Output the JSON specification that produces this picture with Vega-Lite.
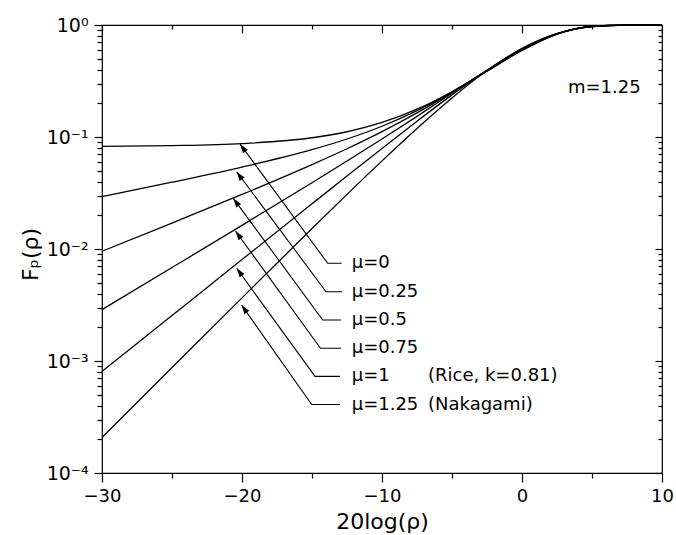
{
  "$schema": "https://vega.github.io/schema/vega-lite/v6.json",
  "width": 560,
  "height": 448,
  "autosize": {"type": "none"},
  "padding": {"left": 102, "top": 25, "right": 14, "bottom": 62},
  "background": "white",
  "config": {
    "view": {"stroke": "black", "strokeWidth": 1.2},
    "axis": {
      "domain": false, "grid": false, "tickColor": "black", "tickWidth": 1.2,
      "labelColor": "black", "titleColor": "black", "labelFont": "DejaVu Sans", "titleFont": "DejaVu Sans",
      "titleFontWeight": "normal", "labelFlush": false, "labelOverlap": false, "labelBound": false
    }
  },
  "datasets": {
    "curves": [
      {"mu": "0", "x": -30, "F": 0.0826}, {"mu": "0", "x": -25, "F": 0.08371}, {"mu": "0", "x": -20, "F": 0.08723},
      {"mu": "0", "x": -15, "F": 0.09846}, {"mu": "0", "x": -12.5, "F": 0.1114}, {"mu": "0", "x": -10, "F": 0.13476},
      {"mu": "0", "x": -7.5, "F": 0.1771}, {"mu": "0", "x": -5, "F": 0.2535}, {"mu": "0", "x": -2.5, "F": 0.38643},
      {"mu": "0", "x": 0, "F": 0.59177}, {"mu": "0", "x": 2.5, "F": 0.82747}, {"mu": "0", "x": 5, "F": 0.97188},
      {"mu": "0", "x": 7.5, "F": 0.9998}, {"mu": "0", "x": 10, "F": 1.0},
      {"mu": "0.25", "x": -30, "F": 0.029373}, {"mu": "0.25", "x": -25, "F": 0.039471}, {"mu": "0.25", "x": -20, "F": 0.053891},
      {"mu": "0.25", "x": -15, "F": 0.077143}, {"mu": "0.25", "x": -12.5, "F": 0.095969}, {"mu": "0.25", "x": -10, "F": 0.124782},
      {"mu": "0.25", "x": -7.5, "F": 0.172017}, {"mu": "0.25", "x": -5, "F": 0.252727}, {"mu": "0.25", "x": -2.5, "F": 0.389045},
      {"mu": "0.25", "x": 0, "F": 0.595384}, {"mu": "0.25", "x": 2.5, "F": 0.8295}, {"mu": "0.25", "x": 5, "F": 0.9713},
      {"mu": "0.25", "x": 7.5, "F": 0.9994}, {"mu": "0.25", "x": 10, "F": 1.0},
      {"mu": "0.5", "x": -30, "F": 0.00955}, {"mu": "0.5", "x": -25, "F": 0.017049}, {"mu": "0.5", "x": -20, "F": 0.030687},
      {"mu": "0.5", "x": -15, "F": 0.056712}, {"mu": "0.5", "x": -12.5, "F": 0.078516}, {"mu": "0.5", "x": -10, "F": 0.111604},
      {"mu": "0.5", "x": -7.5, "F": 0.16408}, {"mu": "0.5", "x": -5, "F": 0.250462}, {"mu": "0.5", "x": -2.5, "F": 0.391636},
      {"mu": "0.5", "x": 0, "F": 0.599638}, {"mu": "0.5", "x": 2.5, "F": 0.8315}, {"mu": "0.5", "x": 5, "F": 0.9705},
      {"mu": "0.5", "x": 7.5, "F": 0.9991}, {"mu": "0.5", "x": 10, "F": 1.0},
      {"mu": "0.75", "x": -30, "F": 0.0028782}, {"mu": "0.75", "x": -25, "F": 0.0068323}, {"mu": "0.75", "x": -20, "F": 0.0162571},
      {"mu": "0.75", "x": -15, "F": 0.0390653}, {"mu": "0.75", "x": -12.5, "F": 0.0609946}, {"mu": "0.75", "x": -10, "F": 0.0960253},
      {"mu": "0.75", "x": -7.5, "F": 0.152903}, {"mu": "0.75", "x": -5, "F": 0.245851}, {"mu": "0.75", "x": -2.5, "F": 0.393831},
      {"mu": "0.75", "x": 0, "F": 0.60477}, {"mu": "0.75", "x": 2.5, "F": 0.8335}, {"mu": "0.75", "x": 5, "F": 0.9698},
      {"mu": "0.75", "x": 7.5, "F": 0.9988}, {"mu": "0.75", "x": 10, "F": 1.0},
      {"mu": "1", "x": -30, "F": 0.0008054}, {"mu": "1", "x": -25, "F": 0.002546}, {"mu": "1", "x": -20, "F": 0.0080415},
      {"mu": "1", "x": -15, "F": 0.0253314}, {"mu": "1", "x": -12.5, "F": 0.0448375}, {"mu": "1", "x": -10, "F": 0.079047},
      {"mu": "1", "x": -7.5, "F": 0.138235}, {"mu": "1", "x": -5, "F": 0.237685}, {"mu": "1", "x": -2.5, "F": 0.394773},
      {"mu": "1", "x": 0, "F": 0.61107}, {"mu": "1", "x": 2.5, "F": 0.83537}, {"mu": "1", "x": 5, "F": 0.96924},
      {"mu": "1", "x": 7.5, "F": 0.9986}, {"mu": "1", "x": 10, "F": 1.0},
      {"mu": "1.25", "x": -30, "F": 0.0002075}, {"mu": "1.25", "x": -25, "F": 0.0008739}, {"mu": "1.25", "x": -20, "F": 0.003664},
      {"mu": "1.25", "x": -15, "F": 0.015223}, {"mu": "1.25", "x": -12.5, "F": 0.03073}, {"mu": "1.25", "x": -10, "F": 0.06124},
      {"mu": "1.25", "x": -7.5, "F": 0.1193}, {"mu": "1.25", "x": -5, "F": 0.2235}, {"mu": "1.25", "x": -2.5, "F": 0.3919},
      {"mu": "1.25", "x": 0, "F": 0.6186}, {"mu": "1.25", "x": 2.5, "F": 0.8414}, {"mu": "1.25", "x": 5, "F": 0.9685},
      {"mu": "1.25", "x": 7.5, "F": 0.99836}, {"mu": "1.25", "x": 10, "F": 0.99999}
    ],
    "leaders": [
      {"mu": "0", "x": -20.143, "F": 0.086596}, {"mu": "0", "x": -13.879, "F": 0.0074526}, {"mu": "0", "x": -12.879, "F": 0.0074526},
      {"mu": "0.25", "x": -20.379, "F": 0.048989}, {"mu": "0.25", "x": -14.0, "F": 0.0041563}, {"mu": "0.25", "x": -12.857, "F": 0.0041563},
      {"mu": "0.5", "x": -20.621, "F": 0.028358}, {"mu": "0.5", "x": -14.236, "F": 0.0023232}, {"mu": "0.5", "x": -12.929, "F": 0.0023232},
      {"mu": "0.75", "x": -20.464, "F": 0.014475}, {"mu": "0.75", "x": -14.393, "F": 0.0012985}, {"mu": "0.75", "x": -12.929, "F": 0.0012985},
      {"mu": "1", "x": -20.379, "F": 0.0067252}, {"mu": "1", "x": -14.786, "F": 0.00072862}, {"mu": "1", "x": -13.0, "F": 0.00072862},
      {"mu": "1.25", "x": -20.036, "F": 0.0031623}, {"mu": "1.25", "x": -15.021, "F": 0.00040886}, {"mu": "1.25", "x": -13.0, "F": 0.00040886}
    ],
    "arrows": [
      {"mu": "0", "x": -20.143, "F": 0.086596},
      {"mu": "0.25", "x": -20.379, "F": 0.048989},
      {"mu": "0.5", "x": -20.621, "F": 0.028358},
      {"mu": "0.75", "x": -20.464, "F": 0.014475},
      {"mu": "1", "x": -20.379, "F": 0.0067252},
      {"mu": "1.25", "x": -20.036, "F": 0.0031623}
    ],
    "labels": [
      {"label": "μ=0", "x": -12.164, "F": 0.0074526},
      {"label": "μ=0.25", "x": -12.164, "F": 0.0041563},
      {"label": "μ=0.5", "x": -12.164, "F": 0.0023232},
      {"label": "μ=0.75", "x": -12.164, "F": 0.0012985},
      {"label": "μ=1", "x": -12.164, "F": 0.00072862},
      {"label": "μ=1.25", "x": -12.164, "F": 0.00040886},
      {"label": "(Rice, k=0.81)", "x": -6.714, "F": 0.00072862},
      {"label": "(Nakagami)", "x": -6.714, "F": 0.00040886},
      {"label": "m=1.25", "x": 3.286, "F": 0.27384}
    ]
  },
  "layer": [
    {
      "data": {"name": "curves"},
      "mark": {"type": "line", "color": "black", "strokeWidth": 1.3, "interpolate": "monotone"},
      "encoding": {
        "x": {"field": "x", "type": "quantitative", "scale": {"domain": [-30, 10], "nice": false, "zero": false},
          "axis": {"orient": "bottom", "values": [-30, -20, -10, 0, 10], "tickSize": 9, "labelFontSize": 18, "labelPadding": 5,
            "title": "20log(ρ)", "titleFontSize": 22, "titleX": 280, "titleY": 55, "titleBaseline": "alphabetic"}},
        "y": {"field": "F", "type": "quantitative", "scale": {"type": "log", "domain": [0.0001, 1], "nice": false},
          "axis": {"orient": "left", "values": [0.0001, 0.001, 0.01, 0.1, 1], "tickSize": 8, "labelFontSize": 19, "labelPadding": 6,
            "labelExpr": "datum.value >= 0.5 ? '10⁰' : datum.value >= 0.05 ? '10⁻¹' : datum.value >= 0.005 ? '10⁻²' : datum.value >= 0.0005 ? '10⁻³' : '10⁻⁴'",
            "title": "Fₚ(ρ)", "titleFontSize": 22, "titleX": -72, "titleY": 229, "titleBaseline": "middle", "titleAngle": 270}},
        "detail": {"field": "mu"}
      }
    },
    {
      "data": {"name": "leaders"},
      "mark": {"type": "line", "color": "black", "strokeWidth": 1.1, "interpolate": "linear"},
      "encoding": {
        "x": {"field": "x", "type": "quantitative", "scale": {"domain": [-30, 10], "nice": false, "zero": false},
          "axis": {"orient": "bottom", "values": [-25, -15, -5, 5], "tickSize": 5, "labels": false, "title": null}},
        "y": {"field": "F", "type": "quantitative", "scale": {"type": "log", "domain": [0.0001, 1], "nice": false},
          "axis": {"orient": "left", "values": [0.0002, 0.0003, 0.0004, 0.0005, 0.0006, 0.0007, 0.0008, 0.0009, 0.002, 0.003, 0.004, 0.005, 0.006, 0.007, 0.008, 0.009, 0.02, 0.03, 0.04, 0.05, 0.06, 0.07, 0.08, 0.09, 0.2, 0.3, 0.4, 0.5, 0.6, 0.7, 0.8, 0.9], "tickSize": 5, "labels": false, "title": null}},
        "detail": {"field": "mu"}
      }
    },
    {
      "data": {"name": "arrows"},
      "mark": {"type": "point", "shape": "M0,0L0.75,2.3L-0.75,2.3Z", "filled": true, "color": "black", "opacity": 1, "size": 64, "angle": -36},
      "encoding": {
        "x": {"field": "x", "type": "quantitative", "scale": {"domain": [-30, 10], "nice": false, "zero": false},
          "axis": {"orient": "top", "values": [-30, -20, -10, 0, 10], "tickSize": -8, "labels": false, "title": null}},
        "y": {"field": "F", "type": "quantitative", "scale": {"type": "log", "domain": [0.0001, 1], "nice": false},
          "axis": {"orient": "right", "values": [0.0001, 0.001, 0.01, 0.1, 1], "tickSize": -7, "labels": false, "title": null}}
      }
    },
    {
      "data": {"name": "labels"},
      "mark": {"type": "text", "align": "left", "baseline": "middle", "font": "DejaVu Sans", "fontSize": 18, "color": "black"},
      "encoding": {
        "x": {"field": "x", "type": "quantitative", "scale": {"domain": [-30, 10], "nice": false, "zero": false},
          "axis": {"orient": "top", "values": [-25, -15, -5, 5], "tickSize": -4, "labels": false, "title": null}},
        "y": {"field": "F", "type": "quantitative", "scale": {"type": "log", "domain": [0.0001, 1], "nice": false},
          "axis": {"orient": "right", "values": [0.0002, 0.0003, 0.0004, 0.0005, 0.0006, 0.0007, 0.0008, 0.0009, 0.002, 0.003, 0.004, 0.005, 0.006, 0.007, 0.008, 0.009, 0.02, 0.03, 0.04, 0.05, 0.06, 0.07, 0.08, 0.09, 0.2, 0.3, 0.4, 0.5, 0.6, 0.7, 0.8, 0.9], "tickSize": -4, "labels": false, "title": null}},
        "text": {"field": "label"}
      }
    }
  ],
  "resolve": {"axis": {"x": "independent", "y": "independent"}}
}
